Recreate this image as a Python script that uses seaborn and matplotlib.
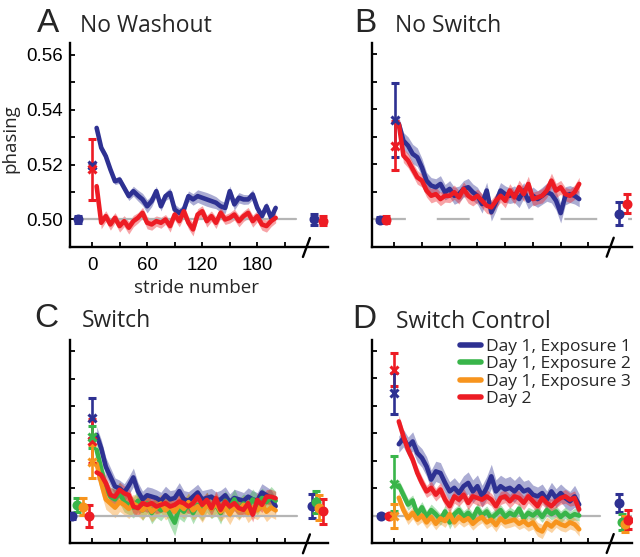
import matplotlib.pyplot as plt
import matplotlib.transforms as mtransforms
from matplotlib.lines import Line2D
import numpy as np
import pandas as pd
import seaborn as sns

# numero de passadas (media por bloco de 5 passadas)
strides = list(range(5, 201, 5))

# cores de cada condicao
cores = {'d1e1': '#2e3192', 'd1e2': '#39b54a', 'd1e3': '#f7941d', 'd2': '#ed1c24'}
rotulos = ['Day 1, Exposure 1', 'Day 1, Exposure 2', 'Day 1, Exposure 3', 'Day 2']

# painel A - No Washout
a_d1e1 = [0.5333, 0.5261, 0.5230, 0.5182, 0.5139, 0.5145, 0.5115, 0.5085, 0.5103, 0.5087,
          0.5073, 0.5048, 0.5067, 0.5103, 0.5048, 0.5085, 0.5097, 0.5036, 0.5024, 0.5036,
          0.5085, 0.5073, 0.5085, 0.5079, 0.5073, 0.5067, 0.5061, 0.5048, 0.5042, 0.5103,
          0.5055, 0.5079, 0.5073, 0.5073, 0.5091, 0.5042, 0.5012, 0.5048, 0.5006, 0.5042]
a_d1e1_sem = [0.0015, 0.0014, 0.0015, 0.0013, 0.0012, 0.0013, 0.0014, 0.0016, 0.0018, 0.0020,
              0.0022, 0.0024, 0.0020, 0.0018, 0.0017, 0.0016, 0.0018, 0.0020, 0.0018, 0.0017,
              0.0019, 0.0021, 0.0023, 0.0024, 0.0025, 0.0024, 0.0022, 0.0021, 0.0020, 0.0019,
              0.0021, 0.0019, 0.0018, 0.0017, 0.0018, 0.0017, 0.0016, 0.0016, 0.0017, 0.0015]
a_d2 = [0.5121, 0.4988, 0.5012, 0.4982, 0.5006, 0.4976, 0.4994, 0.4970, 0.4994, 0.5006,
        0.5024, 0.4988, 0.4982, 0.4994, 0.4988, 0.5000, 0.4976, 0.5018, 0.4994, 0.5030,
        0.4988, 0.4964, 0.5018, 0.5030, 0.4994, 0.5012, 0.4988, 0.5024, 0.5000, 0.5006,
        0.5018, 0.4994, 0.5012, 0.5024, 0.4994, 0.5012, 0.4982, 0.4976, 0.4994, 0.5006]
a_d2_sem = [0.0018, 0.0022, 0.0020, 0.0021, 0.0019, 0.0022, 0.0020, 0.0023, 0.0021, 0.0019,
            0.0020, 0.0022, 0.0021, 0.0019, 0.0020, 0.0018, 0.0022, 0.0020, 0.0021, 0.0023,
            0.0022, 0.0024, 0.0021, 0.0020, 0.0022, 0.0019, 0.0021, 0.0020, 0.0018, 0.0019,
            0.0020, 0.0021, 0.0019, 0.0020, 0.0022, 0.0020, 0.0021, 0.0022, 0.0020, 0.0018]

# painel B - No Switch
b_d1e1 = [0.5346, 0.5285, 0.5267, 0.5237, 0.5225, 0.5188, 0.5140, 0.5122, 0.5116, 0.5128,
          0.5098, 0.5110, 0.5085, 0.5091, 0.5110, 0.5116, 0.5098, 0.5085, 0.5055, 0.5104,
          0.5025, 0.5061, 0.5104, 0.5091, 0.5085, 0.5091, 0.5073, 0.5104, 0.5067, 0.5085,
          0.5073, 0.5085, 0.5098, 0.5091, 0.5067, 0.5022, 0.5085, 0.5091, 0.5085, 0.5073]
b_d1e1_sem = [0.0025, 0.0030, 0.0032, 0.0035, 0.0034, 0.0033, 0.0030, 0.0029, 0.0031, 0.0030,
              0.0028, 0.0030, 0.0031, 0.0029, 0.0030, 0.0032, 0.0030, 0.0031, 0.0033, 0.0030,
              0.0032, 0.0031, 0.0029, 0.0030, 0.0028, 0.0030, 0.0031, 0.0029, 0.0030, 0.0032,
              0.0030, 0.0031, 0.0033, 0.0032, 0.0034, 0.0036, 0.0033, 0.0031, 0.0030, 0.0028]
b_d2 = [0.5346, 0.5231, 0.5213, 0.5182, 0.5152, 0.5140, 0.5104, 0.5085, 0.5091, 0.5073,
        0.5085, 0.5085, 0.5098, 0.5079, 0.5110, 0.5085, 0.5073, 0.5085, 0.5067, 0.5049,
        0.5043, 0.5067, 0.5085, 0.5067, 0.5104, 0.5079, 0.5116, 0.5091, 0.5128, 0.5073,
        0.5079, 0.5085, 0.5104, 0.5140, 0.5104, 0.5116, 0.5091, 0.5085, 0.5098, 0.5128]
b_d2_sem = [0.0022, 0.0025, 0.0026, 0.0024, 0.0025, 0.0023, 0.0024, 0.0026, 0.0025, 0.0024,
            0.0023, 0.0025, 0.0026, 0.0024, 0.0025, 0.0027, 0.0025, 0.0024, 0.0026, 0.0028,
            0.0027, 0.0025, 0.0024, 0.0026, 0.0025, 0.0024, 0.0026, 0.0027, 0.0028, 0.0025,
            0.0024, 0.0026, 0.0025, 0.0027, 0.0026, 0.0025, 0.0024, 0.0025, 0.0026, 0.0024]

# painel C - Switch
c_d1e1 = [0.5295, 0.5246, 0.5179, 0.5143, 0.5107, 0.5100, 0.5085, 0.5110, 0.5140, 0.5090,
          0.5060, 0.5075, 0.5070, 0.5065, 0.5055, 0.5075, 0.5060, 0.5065, 0.5090, 0.5060,
          0.5055, 0.5070, 0.5085, 0.5060, 0.5065, 0.5070, 0.5055, 0.5060, 0.5075, 0.5050,
          0.5065, 0.5060, 0.5055, 0.5070, 0.5060, 0.5055, 0.5085, 0.5075, 0.5065, 0.5035]
c_d1e1_sem = [0.0030, 0.0032, 0.0034, 0.0033, 0.0031, 0.0030, 0.0032, 0.0033, 0.0034, 0.0032,
              0.0030, 0.0031, 0.0032, 0.0030, 0.0031, 0.0033, 0.0032, 0.0030, 0.0031, 0.0032,
              0.0033, 0.0031, 0.0030, 0.0032, 0.0031, 0.0030, 0.0032, 0.0033, 0.0031, 0.0030,
              0.0032, 0.0031, 0.0030, 0.0032, 0.0031, 0.0030, 0.0032, 0.0031, 0.0030, 0.0029]
c_d1e2 = [0.5240, 0.5170, 0.5100, 0.5070, 0.5060, 0.5085, 0.5050, 0.5040, 0.5030, 0.5055,
          0.5020, 0.5045, 0.5010, 0.5035, 0.5020, 0.5040, 0.5005, 0.4975, 0.5030, 0.5015,
          0.5045, 0.5010, 0.5040, 0.5020, 0.5050, 0.5025, 0.5040, 0.5010, 0.5055, 0.5030,
          0.5060, 0.5025, 0.5045, 0.5035, 0.5060, 0.5040, 0.5065, 0.5050, 0.5070, 0.5055]
c_d1e2_sem = [0.0035, 0.0038, 0.0036, 0.0034, 0.0037, 0.0039, 0.0036, 0.0035, 0.0038, 0.0040,
              0.0037, 0.0036, 0.0039, 0.0041, 0.0038, 0.0036, 0.0042, 0.0048, 0.0040, 0.0038,
              0.0037, 0.0039, 0.0036, 0.0038, 0.0037, 0.0035, 0.0038, 0.0040, 0.0037, 0.0036,
              0.0038, 0.0037, 0.0035, 0.0036, 0.0038, 0.0037, 0.0036, 0.0035, 0.0037, 0.0034]
c_d1e3 = [0.5190, 0.5120, 0.5060, 0.5045, 0.5030, 0.5050, 0.5040, 0.5025, 0.5045, 0.5035,
          0.5020, 0.5040, 0.5015, 0.5030, 0.5045, 0.5020, 0.5035, 0.5015, 0.5040, 0.5025,
          0.5050, 0.5020, 0.5035, 0.5010, 0.5040, 0.5025, 0.5045, 0.5015, 0.5030, 0.5005,
          0.5035, 0.5020, 0.5040, 0.5010, 0.5030, 0.5020, 0.5040, 0.5015, 0.5030, 0.5020]
c_d1e3_sem = [0.0040, 0.0038, 0.0036, 0.0035, 0.0037, 0.0034, 0.0036, 0.0035, 0.0033, 0.0036,
              0.0035, 0.0034, 0.0036, 0.0035, 0.0033, 0.0035, 0.0036, 0.0034, 0.0035, 0.0036,
              0.0034, 0.0035, 0.0036, 0.0034, 0.0035, 0.0033, 0.0036, 0.0035, 0.0034, 0.0037,
              0.0035, 0.0036, 0.0034, 0.0035, 0.0036, 0.0034, 0.0035, 0.0036, 0.0034, 0.0033]
c_d2 = [0.5158, 0.5149, 0.5119, 0.5076, 0.5070, 0.5095, 0.5082, 0.5076, 0.5034, 0.5028,
        0.5046, 0.5040, 0.5046, 0.5034, 0.5040, 0.5046, 0.5034, 0.5040, 0.5052, 0.5046,
        0.5034, 0.5046, 0.5070, 0.5040, 0.5058, 0.5028, 0.5064, 0.5022, 0.5052, 0.5034,
        0.5046, 0.5028, 0.5022, 0.5046, 0.5004, 0.5058, 0.5040, 0.5070, 0.5070, 0.5064]
c_d2_sem = [0.0025, 0.0026, 0.0028, 0.0027, 0.0026, 0.0028, 0.0027, 0.0026, 0.0028, 0.0027,
            0.0026, 0.0027, 0.0028, 0.0026, 0.0027, 0.0028, 0.0026, 0.0027, 0.0028, 0.0026,
            0.0027, 0.0028, 0.0026, 0.0027, 0.0028, 0.0026, 0.0027, 0.0028, 0.0026, 0.0027,
            0.0028, 0.0026, 0.0027, 0.0028, 0.0026, 0.0027, 0.0028, 0.0026, 0.0027, 0.0025]

# painel D - Switch Control
d_d1e1 = [0.5260, 0.5282, 0.5252, 0.5270, 0.5228, 0.5210, 0.5179, 0.5131, 0.5161, 0.5155,
          0.5119, 0.5088, 0.5101, 0.5082, 0.5107, 0.5119, 0.5088, 0.5107, 0.5070, 0.5101,
          0.5143, 0.5088, 0.5107, 0.5095, 0.5101, 0.5088, 0.5107, 0.5088, 0.5095, 0.5076,
          0.5070, 0.5082, 0.5058, 0.5088, 0.5064, 0.5082, 0.5064, 0.5052, 0.5070, 0.5040]
d_d1e1_sem = [0.0030, 0.0032, 0.0034, 0.0035, 0.0033, 0.0034, 0.0036, 0.0035, 0.0037, 0.0038,
              0.0036, 0.0035, 0.0037, 0.0036, 0.0038, 0.0040, 0.0042, 0.0041, 0.0040, 0.0042,
              0.0044, 0.0042, 0.0040, 0.0041, 0.0042, 0.0040, 0.0038, 0.0037, 0.0036, 0.0035,
              0.0034, 0.0033, 0.0032, 0.0033, 0.0034, 0.0033, 0.0035, 0.0036, 0.0040, 0.0038]
d_d1e2 = [0.5110, 0.5075, 0.5040, 0.5055, 0.5005, 0.5030, 0.4995, 0.5020, 0.5005, 0.4985,
          0.5015, 0.4975, 0.5005, 0.5020, 0.4995, 0.5010, 0.4990, 0.5025, 0.5000, 0.5015,
          0.4990, 0.5005, 0.5020, 0.4995, 0.5010, 0.5000, 0.5025, 0.4990, 0.5010, 0.5000,
          0.5015, 0.4995, 0.5020, 0.5005, 0.5015, 0.4995, 0.5010, 0.4995, 0.5005, 0.5000]
d_d1e2_sem = [0.0020, 0.0022, 0.0021, 0.0020, 0.0022, 0.0021, 0.0023, 0.0022, 0.0020, 0.0021,
              0.0022, 0.0024, 0.0021, 0.0020, 0.0022, 0.0021, 0.0020, 0.0022, 0.0021, 0.0020,
              0.0022, 0.0021, 0.0020, 0.0022, 0.0021, 0.0020, 0.0022, 0.0021, 0.0020, 0.0022,
              0.0021, 0.0020, 0.0022, 0.0021, 0.0020, 0.0022, 0.0021, 0.0020, 0.0021, 0.0020]
d_d1e3 = [0.5065, 0.5020, 0.4990, 0.5010, 0.4985, 0.5000, 0.4975, 0.4995, 0.4970, 0.4990,
          0.4980, 0.5005, 0.4975, 0.4995, 0.4980, 0.4990, 0.4970, 0.4985, 0.4995, 0.4975,
          0.4985, 0.4965, 0.4990, 0.4975, 0.4980, 0.4985, 0.4970, 0.4980, 0.4965, 0.4975,
          0.4950, 0.4942, 0.4972, 0.4960, 0.4978, 0.4968, 0.4962, 0.4975, 0.4968, 0.4950]
d_d1e3_sem = [0.0022, 0.0021, 0.0023, 0.0022, 0.0021, 0.0023, 0.0022, 0.0024, 0.0022, 0.0021,
              0.0023, 0.0022, 0.0021, 0.0023, 0.0022, 0.0021, 0.0023, 0.0022, 0.0021, 0.0023,
              0.0022, 0.0024, 0.0022, 0.0021, 0.0023, 0.0022, 0.0021, 0.0023, 0.0022, 0.0024,
              0.0025, 0.0026, 0.0023, 0.0022, 0.0021, 0.0023, 0.0022, 0.0024, 0.0023, 0.0025]
d_d2 = [0.5343, 0.5288, 0.5240, 0.5204, 0.5155, 0.5119, 0.5088, 0.5101, 0.5076, 0.5095,
        0.5058, 0.5034, 0.5070, 0.5058, 0.5076, 0.5046, 0.5070, 0.5064, 0.5058, 0.5070,
        0.5058, 0.5034, 0.5064, 0.5070, 0.5052, 0.5070, 0.5064, 0.5046, 0.5070, 0.5052,
        0.5034, 0.5064, 0.5046, 0.5034, 0.5052, 0.5064, 0.5070, 0.5058, 0.5064, 0.5022]
d_d2_sem = [0.0022, 0.0024, 0.0023, 0.0022, 0.0024, 0.0023, 0.0022, 0.0024, 0.0023, 0.0025,
            0.0024, 0.0023, 0.0025, 0.0024, 0.0023, 0.0025, 0.0024, 0.0026, 0.0025, 0.0024,
            0.0023, 0.0025, 0.0024, 0.0023, 0.0025, 0.0024, 0.0026, 0.0025, 0.0024, 0.0023,
            0.0025, 0.0024, 0.0023, 0.0025, 0.0024, 0.0023, 0.0025, 0.0024, 0.0026, 0.0025]

# pontos com barras de erro: (condicao, passada, phasing, erro)
a_pontos = [('d1e1', -15, 0.5000, 0.0012),
            ('d1e1', 0, 0.5197, 0.0010), ('d2', 0, 0.5182, 0.0110),
            ('d1e1', 241.5, 0.5000, 0.0020), ('d2', 251.5, 0.4996, 0.0017)]
b_pontos = [('d1e1', -15.5, 0.4998, 0.0010), ('d2', -8.5, 0.4998, 0.0013),
            ('d1e1', 0.5, 0.5361, 0.0135), ('d2', 0.5, 0.5267, 0.0088),
            ('d1e1', 242.5, 0.5019, 0.0042), ('d2', 251.5, 0.5056, 0.0035)]
c_pontos = [('d1e1', -22, 0.5000, 0.0010), ('d1e2', -16, 0.5040, 0.0025),
            ('d1e3', -10, 0.5034, 0.0030), ('d2', -3.5, 0.4998, 0.0040),
            ('d1e1', 0, 0.5355, 0.0073), ('d2', 0, 0.5274, 0.0080),
            ('d1e2', 0, 0.5288, 0.0040), ('d1e3', 0, 0.5197, 0.0060),
            ('d1e1', 239.5, 0.5036, 0.0045), ('d1e2', 243.5, 0.5050, 0.0040),
            ('d1e3', 247.5, 0.5030, 0.0045), ('d2', 251.5, 0.5016, 0.0045)]
d_pontos = [('d1e1', -14.5, 0.5000, 0.0006), ('d2', -5.5, 0.5000, 0.0006),
            ('d2', 0, 0.5531, 0.0060), ('d1e1', 0, 0.5446, 0.0075),
            ('d1e2', 0, 0.5116, 0.0100), ('d1e3', 0, 0.4998, 0.0045),
            ('d1e1', 243.5, 0.5046, 0.0034), ('d1e2', 246, 0.4976, 0.0030),
            ('d1e3', 249, 0.4970, 0.0030), ('d2', 252.5, 0.4985, 0.0035)]

paineis = [
    ('A', 'No Washout', [('d1e1', a_d1e1, a_d1e1_sem), ('d2', a_d2, a_d2_sem)], a_pontos),
    ('B', 'No Switch', [('d1e1', b_d1e1, b_d1e1_sem), ('d2', b_d2, b_d2_sem)], b_pontos),
    ('C', 'Switch', [('d1e1', c_d1e1, c_d1e1_sem), ('d1e2', c_d1e2, c_d1e2_sem),
                     ('d1e3', c_d1e3, c_d1e3_sem), ('d2', c_d2, c_d2_sem)], c_pontos),
    ('D', 'Switch Control', [('d1e1', d_d1e1, d_d1e1_sem), ('d1e2', d_d1e2, d_d1e2_sem),
                             ('d1e3', d_d1e3, d_d1e3_sem), ('d2', d_d2, d_d2_sem)], d_pontos),
]

sns.set_theme(style='ticks')
plt.rcParams['font.family'] = ['Liberation Sans', 'DejaVu Sans']

fig = plt.figure(figsize=(6.4, 5.57), dpi=100)
fig.patch.set_facecolor('white')

# posicoes dos eixos (esquerda, baixo, largura, altura)
posicoes = [[0.1094, 0.5566, 0.4031, 0.3657], [0.5812, 0.5571, 0.4062, 0.3662],
            [0.1094, 0.0246, 0.4031, 0.3652], [0.5812, 0.0251, 0.4062, 0.3652]]
letras_xy = [(0.058, 0.9425), (0.5537, 0.943), (0.0537, 0.4135), (0.5506, 0.4106)]
titulos_x = [0.125, 0.617, 0.128, 0.619]

for i, (letra, titulo, curvas, pontos) in enumerate(paineis):
    ax = fig.add_axes(posicoes[i])
    ax.set_facecolor('white')

    # linha de referencia em 0.50
    if letra == 'B':
        ax.plot([-23, 257], [0.5, 0.5], color='#b5b5b5', lw=1.6, dashes=(14.8, 13.9), zorder=2.5)
    elif letra == 'A':
        ax.plot([-17, 222], [0.5, 0.5], color='#b5b5b5', lw=1.6, zorder=2.5)
    else:
        ax.plot([-24, 223], [0.5, 0.5], color='#b5b5b5', lw=1.6, zorder=2.5)
        if letra == 'D':
            ax.plot([253, 257], [0.5, 0.5], color='#b5b5b5', lw=1.6, zorder=2.5)

    for cond, media, sem in curvas:
        df = pd.DataFrame({'stride': strides, 'phasing': media, 'sem': sem})
        ax.fill_between(df['stride'], df['phasing'] - df['sem'], df['phasing'] + df['sem'],
                        color=cores[cond], alpha=0.4, lw=0, zorder=2)
        sns.lineplot(data=df, x='stride', y='phasing', color=cores[cond], lw=3.3,
                     ax=ax, zorder=3, legend=False)

    for cond, x, y, e in pontos:
        marcador = 'x' if x == 0 or x == 0.5 else 'o'
        ax.errorbar(x, y, yerr=e, fmt=marcador, color=cores[cond], ms=5.5 if marcador == 'x' else 5,
                    mew=2.2, elinewidth=1.9, capsize=2.8, capthick=1.6, zorder=4)

    ax.set_xlim(-24, 257)
    ax.set_ylim(0.4900, 0.5641)
    ax.set_xlabel('')
    ax.set_ylabel('')
    sns.despine(ax=ax)
    for s in ['left', 'bottom']:
        ax.spines[s].set_linewidth(1.7)
        ax.spines[s].set_color('black')

    ax.set_xticks(range(0, 211, 30))
    ax.set_yticks([0.50, 0.51, 0.52, 0.53, 0.54, 0.55, 0.56])
    ax.tick_params(direction='in', length=3.5, width=1.3, colors='black', labelsize=13.5)
    if letra == 'A':
        ax.set_xticklabels(['0', '', '60', '', '120', '', '180', ''])
        ax.set_yticklabels(['0.50', '', '0.52', '', '0.54', '', '0.56'])
        ax.tick_params(axis='x', pad=7)
        ax.tick_params(axis='y', pad=5)
    else:
        ax.tick_params(labelleft=False, labelbottom=False)

    # marca de quebra no eixo x
    trans = mtransforms.blended_transform_factory(ax.transData, ax.transAxes)
    ax.plot([229.7, 237.3], [-0.049, 0.044], transform=trans, color='black', lw=1.7,
            clip_on=False, zorder=5)

    fig.text(letras_xy[i][0], letras_xy[i][1], letra, fontsize=24, va='baseline',
             family=['Liberation Sans', 'DejaVu Sans'])
    fig.text(titulos_x[i], letras_xy[i][1], titulo, fontsize=16.5, va='baseline',
             family=['Open Sans', 'DejaVu Sans'])

fig.text(196.5 / 640, 0.4745, 'stride number', fontsize=13.5, ha='center', va='baseline',
         family=['Open Sans', 'DejaVu Sans'])
fig.text(10 / 640, 0.752, 'phasing', fontsize=13.5, ha='center', va='center', rotation=90,
         family=['Open Sans', 'DejaVu Sans'])

# legenda do painel D
alcas = [Line2D([], [], color=cores[c], lw=4) for c in ['d1e1', 'd1e2', 'd1e3', 'd2']]
fig.legend(alcas, rotulos, loc='upper left', bbox_to_anchor=(0.718, 0.392), frameon=False,
           prop={'family': 'Open Sans', 'size': 12.5}, handlelength=1.25, handletextpad=0.3,
           labelspacing=0.08, borderpad=0, borderaxespad=0)

fig.savefig('out.png', dpi=100)
